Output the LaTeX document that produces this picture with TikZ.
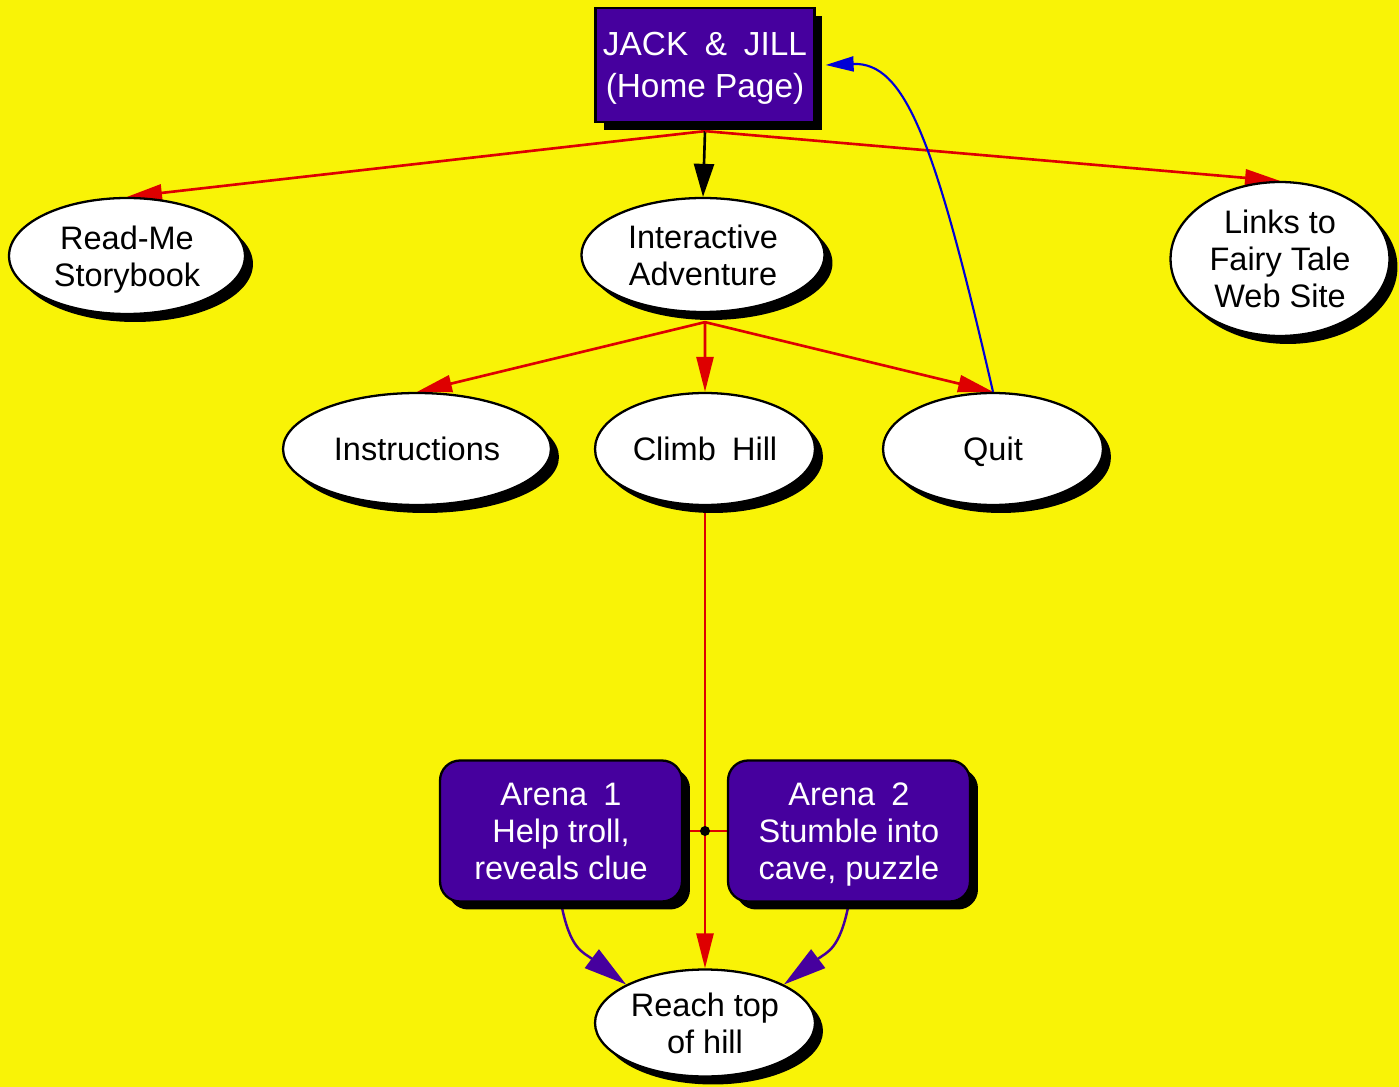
\documentclass[tikz,border=0pt]{standalone}
\usepackage{fontspec}
\setmainfont{Liberation Sans}
\usetikzlibrary{shapes.geometric,shadows,arrows.meta}
\definecolor{pageyellow}{RGB}{249,243,6}
\definecolor{boxpurple}{RGB}{70,0,158}
\definecolor{linkred}{RGB}{222,0,0}
\definecolor{linkblue}{RGB}{0,0,215}
\newcommand\ovalfont{\fontsize{18.5}{21}\selectfont}
\newcommand\homefont{\fontsize{19}{24}\selectfont}
\newcommand\gap{\hspace{0.5em}}
\pgfdeclarelayer{paper}
\pgfdeclarelayer{links}
\pgfsetlayers{paper,links,main}

\begin{document}
\begin{tikzpicture}[
  x=0.02cm, y=-0.02cm,
  shade/.style={drop shadow={shadow xshift=0.16cm, shadow yshift=-0.16cm, fill=black, opacity=1}},
  oval/.style={ellipse, draw, line width=1.3pt, fill=white, shade, inner sep=0pt, align=center,
    text depth=0pt, font=\ovalfont},
  homebox/.style={draw, line width=1.3pt, fill=boxpurple, text=white, shade, align=center, text depth=0pt,
    minimum width=4.38cm, minimum height=2.28cm, font=\homefont},
  arena/.style={draw, rounded corners=0.4cm, line width=1.3pt, fill=boxpurple, text=white, shade,
    align=center, text depth=0pt, minimum width=4.84cm, minimum height=2.82cm, font=\ovalfont},
  redline/.style={draw=linkred, line width=1.5pt, -{Triangle[length=0.7cm, width=0.34cm]}},
  blackline/.style={draw=black, line width=1.5pt, -{Triangle[length=0.66cm, width=0.4cm]}},
  blueline/.style={draw=linkblue, line width=1.2pt, -{Triangle[length=0.56cm, width=0.3cm]}},
  purpleline/.style={draw=boxpurple, line width=1.4pt, -{Triangle[length=0.86cm, width=0.46cm]}}
]
\begin{pgfonlayer}{paper}
  \fill[pageyellow] (0,0) rectangle (1399,1087);
\end{pgfonlayer}
\useasboundingbox (0,0) rectangle (1399,1087);

\node[homebox] (home) at (705,65) {JACK\gap\&\gap JILL\\(Home Page)};
\node[oval, minimum width=4.72cm, minimum height=2.32cm] (readme) at (127,256) {Read-Me\\Storybook};
\node[oval, minimum width=4.86cm, minimum height=2.28cm] (adventure) at (703,255) {Interactive\\Adventure};
\node[oval, minimum width=4.38cm, minimum height=3.08cm] (fairy) at (1280,259) {Links to\\Fairy Tale\\Web Site};
\node[oval, minimum width=5.36cm, minimum height=2.24cm] (instr) at (417,449) {Instructions};
\node[oval, minimum width=4.4cm, minimum height=2.24cm] (climb) at (705,449) {Climb\gap Hill};
\node[oval, minimum width=4.4cm, minimum height=2.24cm] (quit) at (993,449) {Quit};
\node[arena] (arena1) at (561,831) {Arena\gap 1\\Help troll,\\reveals clue};
\node[arena] (arena2) at (849,831) {Arena\gap 2\\Stumble into\\cave, puzzle};
\node[oval, minimum width=4.4cm, minimum height=2.14cm] (reach) at (705,1023) {Reach top\\of hill};

\begin{pgfonlayer}{links}
  \coordinate (homefoot) at ([yshift=-0.16cm]home.south);
  \coordinate (advfoot) at ([xshift=0.04cm, yshift=-0.18cm]adventure.south);
  \draw[redline] (homefoot) -- (readme.north);
  \draw[blackline] (homefoot) -- (adventure.north);
  \draw[redline] (homefoot) -- (fairy.north);
  \draw[redline] (advfoot) -- (instr.north);
  \draw[redline] (advfoot) -- (climb.north);
  \draw[redline] (advfoot) -- (quit.north);
  \draw[blueline] (quit.north) .. controls (935,140) and (905,62) .. ([xshift=0.2cm]home.east);
  \draw[redline] (climb.south) -- (reach.north);
  \coordinate (joint) at (climb.south |- arena1.east);
  \draw[redline, -] (arena1.east) -- (arena2.west);
  \fill (joint) circle (0.1cm);
  \draw[purpleline] (arena1.south) .. controls (570,950) and (583,952) .. (reach.154);
  \draw[purpleline] (arena2.south) .. controls (840,950) and (827,952) .. (reach.26);
\end{pgfonlayer}
\end{tikzpicture}
\end{document}
